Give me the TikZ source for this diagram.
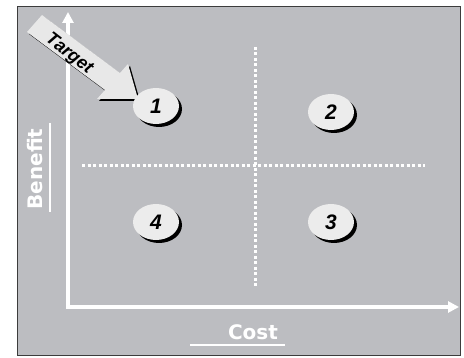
\documentclass[tikz,border=0pt]{standalone}
\usepackage{fontspec}
\setmainfont{Liberation Sans}
\newfontfamily\labfont{DejaVu Sans}
\usetikzlibrary{shapes.geometric,shadows,arrows.meta}
\definecolor{panel}{RGB}{188,189,193}
\definecolor{frameline}{RGB}{60,60,60}
\definecolor{bubble}{RGB}{236,236,236}
\definecolor{arrowfill}{RGB}{232,232,232}
\begin{document}
\begin{tikzpicture}[x=1pt,y=-1pt,
  axis/.style={draw=white,line width=3.5pt,line join=miter},
  divider/.style={draw=white,line width=3pt,dash pattern=on 3pt off 2.5pt},
  quad/.style={ellipse,fill=bubble,minimum width=46pt,minimum height=36pt,inner sep=0pt,
    font=\fontsize{21}{21}\selectfont\bfseries\itshape,
    drop shadow={shadow xshift=3pt,shadow yshift=-3pt,fill=black,opacity=1}},
  axislabel/.style={text=white,inner sep=0pt,font=\labfont\fontsize{20}{20}\selectfont\bfseries},
  underline/.style={draw=white,line width=1.5pt},
  ]
\useasboundingbox (0,0) rectangle (464,358);
\fill[white] (0,0) rectangle (464,358);
\draw[frameline,fill=panel,line width=1.5pt] (17.5,6.5) rectangle (460.5,355.5);
% dotted dividers
\coordinate (vtop) at (255,47);
\coordinate (vbot) at (255,286);
\coordinate (hl) at (82,166);
\coordinate (hr) at (425,166);
\draw[divider] (vtop) -- (vbot);
\draw[divider] (hl) -- (hr);
% axes
\coordinate (O) at (68,307);
\coordinate (ytip) at (68,12);
\coordinate (xtip) at (459,307);
\draw[axis,{Triangle[length=11pt,width=11pt]}-{Triangle[length=11pt,width=11pt]}] (ytip) -- (O) -- (xtip);
% target arrow
\fill[black,shift={(2,2)}] (42,15) -- (120,73) -- (128,64) -- (138,99) -- (97,99) -- (105,90) -- (27,32) -- cycle;
\fill[arrowfill] (42,15) -- (120,73) -- (128,64) -- (138,99) -- (97,99) -- (105,90) -- (27,32) -- cycle;
\node[rotate=-38,inner sep=0pt,font=\fontsize{18}{18}\selectfont\bfseries\itshape] (tgt) at (69,54) {Target};
% quadrants
\node[quad] (q1) at (156,106) {1};
\node[quad] (q2) at (331,112) {2};
\node[quad] (q4) at (156,222) {4};
\node[quad] (q3) at (331,222) {3};
% axis labels
\node[axislabel,rotate=90] (benefit) at (35,169) {Benefit};
\coordinate (bu1) at (50,123);
\coordinate (bu2) at (50,212);
\draw[underline] (bu1) -- (bu2);
\node[axislabel] (cost) at (253,332) {Cost};
\coordinate (cu1) at (190,345);
\coordinate (cu2) at (285,345);
\draw[underline] (cu1) -- (cu2);
\end{tikzpicture}
\end{document}
